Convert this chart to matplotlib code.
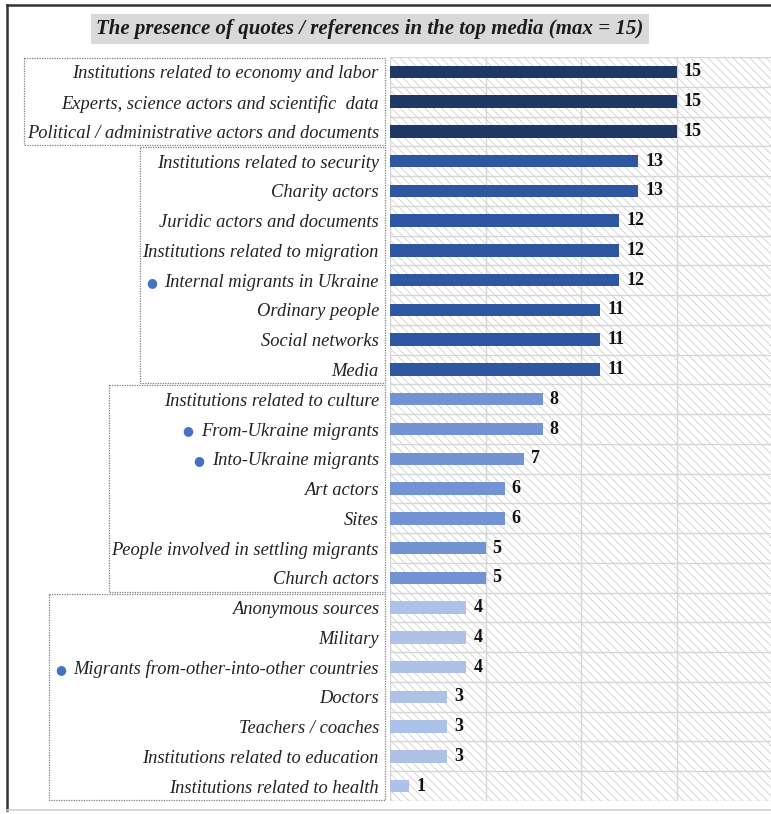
import matplotlib
matplotlib.use('Agg')
import matplotlib.pyplot as plt
from matplotlib.patches import Rectangle
from matplotlib.lines import Line2D
import matplotlib.transforms as mtransforms

# data
categories = [
    'Institutions related to economy and labor',
    'Experts, science actors and scientific  data',
    'Political / administrative actors and documents',
    'Institutions related to security',
    'Charity actors',
    'Juridic actors and documents',
    'Institutions related to migration',
    'Internal migrants in Ukraine',
    'Ordinary people',
    'Social networks',
    'Media',
    'Institutions related to culture',
    'From-Ukraine migrants',
    'Into-Ukraine migrants',
    'Art actors',
    'Sites',
    'People involved in settling migrants',
    'Church actors',
    'Anonymous sources',
    'Military',
    'Migrants from-other-into-other countries',
    'Doctors',
    'Teachers / coaches',
    'Institutions related to education',
    'Institutions related to health',
]
values = [15, 15, 15, 13, 13, 12, 12, 12, 11, 11, 11, 8, 8, 7, 6, 6, 5, 5, 4, 4, 4, 3, 3, 3, 1]
group_sizes = [3, 8, 7, 7]
group_colors = ['#1f3864', '#2f56a0', '#7393d3', '#aec2e8']
migrant_rows = ['Internal migrants in Ukraine', 'From-Ukraine migrants',
                'Into-Ukraine migrants', 'Migrants from-other-into-other countries']
title = 'The presence of quotes / references in the top media (max = 15)'

W, H = 771, 814
plt.rcParams['hatch.linewidth'] = 0.55
plt.rcParams['hatch.color'] = '#cccccc'

fig = plt.figure(figsize=(W / 100, H / 100), dpi=100)
fig.patch.set_facecolor('white')
ax = fig.add_axes([390 / W, 1 - 801 / H, 1 - 390 / W, 744 / H])

# bar colours by group
colors = []
for size, c in zip(group_sizes, group_colors):
    colors += [c] * size

n = len(categories)
ypos = list(range(n))

# hatched background
ax.set_facecolor('white')
ax.add_patch(Rectangle((0, 0), 1, 1, transform=ax.transAxes, facecolor='white',
                       hatch='\\\\\\\\', edgecolor='#cccccc', linewidth=0, zorder=0))

for x in [0, 5, 10, 15]:
    ax.axvline(x, color='#d6d6d6', lw=1, zorder=1)
for k in range(n + 1):
    ax.axhline(k - 0.5, color='#d6d6d6', lw=1, zorder=1)

ax.barh(ypos, values, height=0.42, color=colors, zorder=2)

for i, v in enumerate(values):
    ax.annotate(str(v), (v, i), xytext=(5, 0), textcoords='offset points',
                va='center', ha='left', fontsize=13, fontweight='bold',
                family='Liberation Serif', color='#111111')

ax.set_xlim(0, 19.94)
ax.set_ylim(n - 0.5, -0.5)
ax.set_xticks([])
ax.set_yticks(ypos)
ax.set_yticklabels(categories, fontsize=13.3, style='italic',
                   family='Liberation Serif', color='#222222')
ax.tick_params(axis='y', length=0, pad=8)
for s in ax.spines.values():
    s.set_visible(False)

# title
fig.text(370 / W, 1 - 29 / H, title, ha='center', va='center', fontsize=15,
         fontweight='bold', style='italic', family='Liberation Serif', color='#1a1a1a',
         bbox=dict(boxstyle='square,pad=0.25', facecolor='#d9d9d9', edgecolor='none'))

# dots before migrant rows, group boxes
fig.canvas.draw()
renderer = fig.canvas.get_renderer()
labels = ax.get_yticklabels()
lefts = []
for lab in labels:
    bb = lab.get_window_extent(renderer)
    x0 = bb.x0
    if lab.get_text() in migrant_rows:
        yc = (bb.y0 + bb.y1) / 2
        fig.text((x0 - 13) / W, yc / H, '\u25cf', ha='center', va='center',
                 fontsize=9, color='#4472c4', family='DejaVu Sans')
        x0 -= 21
    lefts.append(x0)

blend = mtransforms.blended_transform_factory(fig.transFigure, ax.transData)
start = 0
for size in group_sizes:
    left = min(lefts[start:start + size]) - 3
    right = 385
    ax.add_patch(Rectangle((left / W, start - 0.47), (right - left) / W, size - 0.06,
                           transform=blend, fill=False, edgecolor='#7f7f7f',
                           linestyle=(0, (1, 1)), lw=0.9, clip_on=False, zorder=5))
    start += size

# outer frame
fig.add_artist(Line2D([7 / W, 7 / W], [1 - 5 / H, 1 - 810 / H], transform=fig.transFigure,
                      color='#333333', lw=1.8))
fig.add_artist(Line2D([7 / W, 1], [1 - 5 / H, 1 - 5 / H], transform=fig.transFigure,
                      color='#333333', lw=1.8))
fig.add_artist(Line2D([7 / W, 1], [1 - 810 / H, 1 - 810 / H], transform=fig.transFigure,
                      color='#c8d4d8', lw=1.2))

fig.savefig('out.png', dpi=100)
